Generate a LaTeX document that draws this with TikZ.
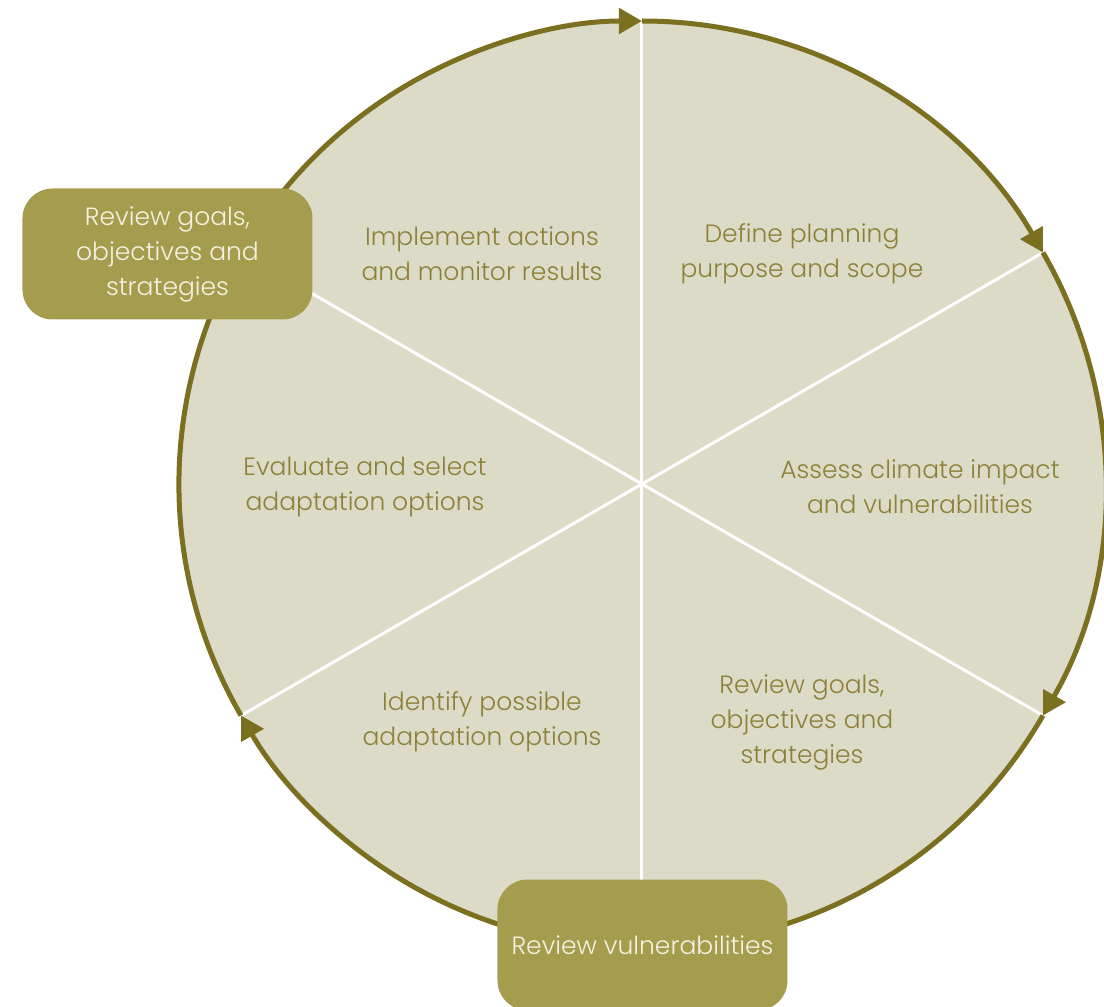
\documentclass[tikz,border=0pt]{standalone}
\usepackage{fontspec}
\IfFontExistsTF{Poppins Light}
  {\setmainfont{Poppins Light}}
  {\setmainfont{Poppins}}
\usetikzlibrary{arrows.meta, positioning}
\definecolor{ring}{HTML}{7A7020}
\definecolor{disc}{HTML}{DCDBC7}
\definecolor{plate}{HTML}{A59C4E}
\definecolor{ink}{HTML}{8C8136}
\definecolor{paper}{HTML}{F4F2E2}
\tikzset{
  font=\fontsize{25}{35}\selectfont,
  >={Triangle[length=23pt, width=25pt]},
  %
  disc/.style={fill=disc, draw=none},
  spoke/.style={draw=white, line width=3pt},
  ringarc/.style={draw=ring, line width=5pt, ->},
  %
  stage/.style={text=ink, align=center, inner sep=2pt},
  plate/.style={fill=plate, rounded corners=30pt, text=paper, align=center,
                minimum width=290pt, minimum height=131pt},
}

\begin{document}
\begin{tikzpicture}[x=1pt, y=1pt]

  \useasboundingbox (-642,-523) rectangle (462,484);

  % --- the wheel ---------------------------------------------------------
  \coordinate (hub) at (0,0);
  \fill[disc] (hub) circle[radius=463];
  \foreach \a in {90,30,-30,-90,-150,150}
    { \draw[spoke] (hub) -- (\a:463); }

  \foreach \a/\b in {90/30, 30/-30, -30/-150, -150/-270}
    { \draw[ringarc] (\a:463) arc[start angle=\a, end angle=\b, radius=463]; }

  % --- the six stages ----------------------------------------------------
  \node[stage] (implement) at (-160,230) {Implement actions\\and monitor results};
  \node[stage] (define)    at (160,230)  {Define planning\\purpose and scope};
  \node[stage] (assess)    at (278,-3)   {Assess climate impact\\and vulnerabilities};
  \node[stage] (goals)     at (160,-238) {Review goals,\\objectives and\\strategies};
  \node[stage] (identify)  at (-160,-238) {Identify possible\\adaptation options};
  \node[stage] (evaluate)  at (-277,-3)  {Evaluate and select\\adaptation options};

  % --- the review loops --------------------------------------------------
  \node[plate] (revgoals) at (-474.5,230) {Review goals,\\objectives and\\strategies};
  \node[plate] (revvuln)  at (0.5,-461)   {Review vulnerabilities};

\end{tikzpicture}
\end{document}
